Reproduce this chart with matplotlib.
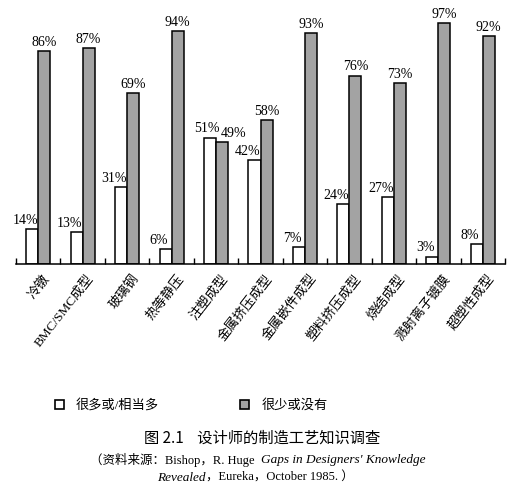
import numpy as np
import matplotlib.pyplot as plt
from matplotlib.patches import Rectangle

# Data (percent of designers)
categories = ['冷镦', 'BMC/SMC成型', '玻璃钢', '热等静压', '注塑成型', '金属挤压成型',
              '金属嵌件成型', '塑料挤压成型', '烧结成型', '溅射离子镀膜', '超塑性成型']
much = [14, 13, 31, 6, 51, 42, 7, 24, 27, 3, 8]       # 很多或/相当多
little = [86, 87, 69, 94, 49, 58, 93, 76, 73, 97, 92]  # 很少或没有
legend_labels = ['很多或/相当多', '很少或没有']

serif = ['Liberation Serif', 'Noto Sans CJK SC']
cjk = ['Noto Sans CJK SC', 'Liberation Serif']
grey = '#a3a3a3'

W, H = 525, 492
fig = plt.figure(figsize=(W / 100, H / 100), dpi=100)
ax = fig.add_axes([16 / W, 1 - 264 / H, 489 / W, 248 / H])

x = np.arange(len(categories))
bw = 0.27
ax.bar(x - bw / 2, much, bw, color='white', edgecolor='black', linewidth=1.1)
ax.bar(x + bw / 2, little, bw, color=grey, edgecolor='black', linewidth=1.1)

# value labels
for i in range(len(categories)):
    dx_w, dx_g = -5, 0
    if much[i] > little[i]:
        # close pair: push the labels apart
        dx_w, dx_g = -2, 8
    ax.annotate(f'{much[i]}%', (x[i] - bw / 2, much[i]), xytext=(dx_w, 1.5),
                textcoords='offset points', ha='center', va='bottom',
                fontsize=10, family=serif)
    ax.annotate(f'{little[i]}%', (x[i] + bw / 2, little[i]), xytext=(dx_g, 1.5),
                textcoords='offset points', ha='center', va='bottom',
                fontsize=10, family=serif)

ax.set_xlim(-0.5, len(categories) - 0.5)
ax.set_ylim(0, 100)
ax.set_xticks(np.arange(-0.5, len(categories)))
ax.set_xticklabels([])
ax.tick_params(axis='x', direction='in', length=4, width=1)
ax.set_yticks([])
for s in ['top', 'left', 'right']:
    ax.spines[s].set_visible(False)
ax.spines['bottom'].set_linewidth(1.1)

# rotated category labels
for i, c in enumerate(categories):
    ax.annotate(c, (x[i], 0), xycoords=ax.get_xaxis_transform(),
                xytext=(3, -6), textcoords='offset points',
                rotation=52, rotation_mode='anchor', ha='right', va='top',
                fontsize=9.5, family=serif)

# legend
fig.add_artist(Rectangle((55 / W, 1 - 409 / H), 9 / W, 9 / H, transform=fig.transFigure,
                         facecolor='white', edgecolor='black', linewidth=1.2))
fig.text(76 / W, 1 - 405 / H, legend_labels[0], fontsize=9.5, family=serif, va='center')
fig.add_artist(Rectangle((240 / W, 1 - 409 / H), 9 / W, 9 / H, transform=fig.transFigure,
                         facecolor=grey, edgecolor='black', linewidth=1.2))
fig.text(262 / W, 1 - 405 / H, legend_labels[1], fontsize=9.5, family=serif, va='center')

# caption
fig.text(262 / W, 1 - 438 / H, '图 2.1    设计师的制造工艺知识调查', fontsize=11,
         family=cjk, ha='center', va='center')
fig.text(258 / W, 1 - 460 / H, '（资料来源：Bishop，R. Huge ', fontsize=9,
         family=serif, ha='right', va='center')
fig.text(261 / W, 1 - 460 / H, "Gaps in Designers' Knowledge", fontsize=9.5,
         family=serif, style='italic', ha='left', va='center')
fig.text(206 / W, 1 - 478 / H, 'Revealed', fontsize=9.5,
         family=serif, style='italic', ha='right', va='center')
fig.text(206 / W, 1 - 478 / H, '，Eureka，October 1985. ）', fontsize=9,
         family=serif, ha='left', va='center')

fig.savefig('out.png', dpi=100)
